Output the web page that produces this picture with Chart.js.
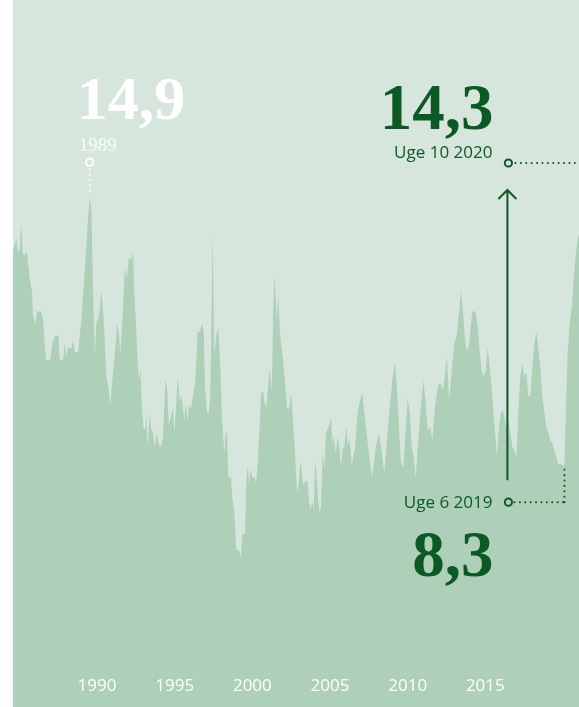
<!DOCTYPE html>
<html>
<head>
<meta charset="utf-8">
<script src="https://cdn.jsdelivr.net/npm/chart.js@4"></script>
<style>
  html, body { margin: 0; padding: 0; background: #fff; }
  #wrap { width: 579px; height: 707px; position: relative; }
</style>
</head>
<body>
<div id="wrap"><canvas id="chart"></canvas></div>
<script>
// weekly readings (decimal year, value)
const years = [
    1984.59, 1984.80, 1984.89, 1985.02, 1985.11, 1985.23, 1985.36, 1985.49, 1985.56, 1985.67,
    1985.81, 1985.88, 1986.01, 1986.14, 1986.41, 1986.52, 1986.63, 1986.73, 1986.99, 1987.12,
    1987.29, 1987.51, 1987.60, 1987.81, 1987.92, 1988.02, 1988.13, 1988.37, 1988.45, 1988.58,
    1988.78, 1988.89, 1988.99, 1989.14, 1989.31, 1989.44, 1989.53, 1989.63, 1989.74, 1989.85,
    1989.95, 1990.13, 1990.28, 1990.39, 1990.50, 1990.60, 1990.73, 1990.86, 1990.98, 1991.14,
    1991.29, 1991.42, 1991.50, 1991.67, 1991.80, 1991.93,
    1992.04, 1992.14, 1992.25, 1992.32, 1992.40, 1992.53, 1992.62, 1992.70, 1992.79, 1992.90,
    1993.01, 1993.11, 1993.17, 1993.26, 1993.39, 1993.48, 1993.60, 1993.71, 1993.86, 1993.99,
    1994.12, 1994.25, 1994.40, 1994.51, 1994.62, 1994.76, 1994.89, 1994.98, 1995.11, 1995.20,
    1995.32, 1995.43, 1995.54, 1995.62, 1995.71, 1995.84, 1995.92, 1996.05, 1996.18, 1996.33,
    1996.48, 1996.61, 1996.74, 1996.87, 1996.95, 1997.08, 1997.19, 1997.29, 1997.38, 1997.45,
    1997.55, 1997.68, 1997.81, 1997.94, 1998.05, 1998.20, 1998.29, 1998.37, 1998.45, 1998.63,
    1998.71, 1998.84, 1998.97, 1999.14, 1999.27,
    1999.35, 1999.53, 1999.61, 1999.70, 1999.79, 1999.87, 2000.00, 2000.13, 2000.24, 2000.35,
    2000.45, 2000.56, 2000.69, 2000.77, 2000.90, 2001.03, 2001.12, 2001.25, 2001.33, 2001.41,
    2001.50, 2001.59, 2001.67, 2001.76, 2001.85, 2001.97, 2002.10, 2002.23, 2002.38, 2002.49,
    2002.62, 2002.75, 2002.83, 2002.92, 2003.01, 2003.09, 2003.18, 2003.26, 2003.39, 2003.57,
    2003.65, 2003.73, 2003.86, 2003.95, 2004.04, 2004.12, 2004.25, 2004.34, 2004.42, 2004.53,
    2004.63, 2004.74, 2004.85, 2004.96, 2005.07, 2005.15, 2005.24, 2005.37, 2005.50, 2005.63,
    2005.71, 2005.82, 2005.92, 2006.05, 2006.14, 2006.27, 2006.40, 2006.48, 2006.61,
    2006.78, 2006.95, 2007.08, 2007.21, 2007.38, 2007.56, 2007.69, 2007.81, 2007.94, 2008.16,
    2008.33, 2008.50, 2008.67, 2008.84, 2009.01, 2009.19, 2009.31, 2009.44, 2009.57, 2009.72,
    2009.88, 2010.00, 2010.13, 2010.26, 2010.39, 2010.52, 2010.65, 2010.82, 2011.01, 2011.16,
    2011.29, 2011.46, 2011.59, 2011.72, 2011.85, 2011.97, 2012.15, 2012.28, 2012.41, 2012.53,
    2012.66, 2012.84, 2013.00, 2013.18, 2013.31, 2013.44, 2013.56, 2013.69, 2013.82, 2013.95,
    2014.16, 2014.38, 2014.51, 2014.64, 2014.77, 2014.90, 2015.03, 2015.15, 2015.24, 2015.37,
    2015.50, 2015.62, 2015.75, 2015.88, 2016.01, 2016.14, 2016.27, 2016.35, 2016.48, 2016.61,
    2016.74, 2016.87, 2017.00, 2017.13, 2017.25, 2017.38, 2017.51, 2017.64, 2017.77, 2017.90,
    2018.03, 2018.16, 2018.28, 2018.41, 2018.54, 2018.67, 2018.80, 2018.93, 2019.06, 2019.19,
    2019.31, 2019.44, 2019.57, 2019.70, 2019.83, 2019.96, 2020.09, 2020.18, 2020.30, 2020.43,
    2020.56, 2020.69, 2020.82, 2020.95, 2021.03
];
const values = [
    13.6, 13.9, 13.6, 13.6, 14.3, 13.5, 13.5, 13.6, 13.3, 12.9,
    12.6, 12.0, 11.8, 12.1, 12.1, 11.9, 11.3, 10.9, 10.9, 11.3,
    11.5, 11.5, 10.9, 10.9, 11.3, 11.0, 11.2, 11.2, 11.4, 11.1,
    11.1, 11.5, 11.9, 12.7, 13.7, 14.5, 14.9, 14.7, 12.7, 11.0,
    11.8, 12.0, 12.6, 12.1, 11.4, 10.5, 10.2, 9.8, 10.4, 11.0,
    11.8, 11.5, 11.0, 12.2, 13.2, 12.9,
    13.4, 13.4, 13.4, 13.6, 12.6, 11.6, 10.8, 10.4, 10.7, 9.6,
    9.2, 9.2, 9.6, 8.7, 9.6, 9.2, 9.1, 8.75, 9.1, 8.8,
    8.75, 9.0, 10.4, 10.2, 9.3, 9.5, 9.7, 9.1, 9.9, 10.5,
    9.9, 10.0, 9.7, 9.4, 9.8, 9.4, 9.8, 9.7, 10.0, 10.4,
    11.6, 11.6, 11.8, 11.6, 10.2, 9.6, 9.6, 10.0, 12.1, 14.05,
    11.0, 11.5, 11.7, 10.7, 9.4, 8.6, 9.1, 9.1, 8.0, 8.0,
    7.5, 7.1, 6.2, 6.2, 6.0,
    6.6, 6.6, 7.9, 8.3, 7.85, 8.2, 8.0, 8.0, 7.85, 8.35,
    9.1, 10.1, 10.1, 9.9, 9.7, 10.3, 10.7, 10.1, 11.8, 13.0,
    12.45, 11.8, 12.5, 11.7, 11.3, 10.9, 10.4, 9.7, 9.7, 10.1,
    9.4, 8.6, 7.9, 7.6, 8.0, 8.4, 8.2, 7.8, 7.9, 7.9,
    7.4, 7.2, 7.4, 7.2, 8.4, 8.1, 7.4, 7.1, 7.3, 8.6,
    8.2, 9.1, 9.2, 9.3, 9.5, 8.85, 9.0, 8.6, 9.0, 8.65,
    8.25, 8.7, 8.75, 9.25, 8.8, 8.95, 8.25, 8.5, 8.7,
    9.65, 9.9, 10.1, 9.6, 9.0, 8.4, 8.0, 8.3, 8.75, 9.1,
    8.6, 8.1, 8.9, 9.7, 10.4, 10.85, 10.2, 9.25, 8.35, 8.25,
    9.25, 9.95, 9.6, 8.75, 8.5, 8.0, 8.75, 9.6, 10.4, 9.85,
    9.15, 9.25, 8.9, 9.6, 10.0, 10.3, 10.3, 10.15, 10.6, 11.0,
    9.9, 10.65, 11.3, 11.55, 12.1, 12.6, 12.1, 11.4, 11.1, 11.3,
    12.1, 12.1, 11.7, 11.1, 10.6, 10.5, 10.65, 11.2, 10.9, 10.4,
    9.75, 9.1, 8.5, 9.25, 9.6, 9.65, 9.4, 9.25, 9.4, 9.1,
    8.75, 8.65, 8.5, 9.65, 10.5, 10.8, 10.5, 10.6, 10.0, 10.0,
    10.7, 11.3, 11.6, 11.2, 10.7, 10.0, 9.6, 9.25, 9.1, 8.9,
    8.85, 8.65, 8.5, 8.3, 8.35, 8.3, 8.3, 9.6, 11.1, 11.8,
    12.2, 12.9, 13.5, 13.9, 14.0
];
const tickYears = [1990, 1995, 2000, 2005, 2010, 2015];

// the two marked points
const peakYear = 1989.53, peakValue = 14.9;
const lowYear = 2020.09, lowValue = 8.3;

const darkGreen = '#0b5a26';

function dotted(ctx, x1, y1, x2, y2, color) {
    ctx.save();
    ctx.strokeStyle = color;
    ctx.lineWidth = 2;
    ctx.lineCap = 'round';
    ctx.setLineDash([0.1, 5.3]);
    ctx.beginPath();
    ctx.moveTo(x1, y1);
    ctx.lineTo(x2, y2);
    ctx.stroke();
    ctx.restore();
}

function ring(ctx, x, y, color) {
    ctx.save();
    ctx.strokeStyle = color;
    ctx.lineWidth = 2;
    ctx.beginPath();
    ctx.arc(x, y, 3.6, 0, Math.PI * 2);
    ctx.stroke();
    ctx.restore();
}

function label(ctx, text, x, y, font, color, align) {
    ctx.save();
    ctx.font = font;
    ctx.fillStyle = color;
    ctx.textAlign = align;
    ctx.textBaseline = 'alphabetic';
    ctx.fillText(text, x, y);
    ctx.restore();
}

const notes = {
    id: 'notes',
    beforeDraw(chart) {
        const { ctx, chartArea } = chart;
        ctx.save();
        ctx.fillStyle = '#d6e6dc';
        ctx.fillRect(chartArea.left, 0, chartArea.right - chartArea.left, chart.height);
        ctx.restore();
    },
    afterDatasetsDraw(chart) {
        const { ctx, chartArea } = chart;
        const xs = chart.scales.x, ys = chart.scales.y;

        // 1989 top
        const px = xs.getPixelForValue(peakYear), py = ys.getPixelForValue(peakValue);
        dotted(ctx, px, py - 29, px, py - 2, '#ffffff');
        ring(ctx, px, py - 36, '#ffffff');
        label(ctx, '1989', px - 11, py - 47, '19px "Liberation Serif"', 'rgba(255,255,255,0.85)', 'left');
        label(ctx, '14,9', px - 13, py - 79, 'bold 62px "Liberation Serif"', '#ffffff', 'left');

        // 2019 low and the jump to 2020
        const lx = xs.getPixelForValue(lowYear), ly = ys.getPixelForValue(lowValue);
        const ax = lx - 57;
        const lowRingY = ly + 37;
        dotted(ctx, lx, lowRingY, lx, ly + 3, darkGreen);
        dotted(ctx, ax + 7, lowRingY, lx, lowRingY, darkGreen);
        ring(ctx, ax + 1, lowRingY, darkGreen);
        label(ctx, 'Uge 6 2019', ax - 15, lowRingY + 6, '17px "Open Sans"', darkGreen, 'right');
        label(ctx, '8,3', ax - 14, lowRingY + 74, 'bold 65px "Liberation Serif"', darkGreen, 'right');

        // arrow up
        ctx.save();
        ctx.strokeStyle = darkGreen;
        ctx.lineWidth = 2;
        ctx.beginPath();
        ctx.moveTo(ax, lowRingY - 22);
        ctx.lineTo(ax, 190);
        ctx.moveTo(ax - 9, 199);
        ctx.lineTo(ax, 190);
        ctx.lineTo(ax + 9, 199);
        ctx.stroke();
        ctx.restore();

        const topRingY = 163;
        ring(ctx, ax + 1, topRingY, darkGreen);
        dotted(ctx, ax + 8, topRingY, chartArea.right + 2, topRingY, darkGreen);
        label(ctx, 'Uge 10 2020', ax - 15, topRingY - 5, '17px "Open Sans"', darkGreen, 'right');
        label(ctx, '14,3', ax - 14, topRingY - 34, 'bold 65px "Liberation Serif"', darkGreen, 'right');
    }
};

new Chart(document.getElementById('chart').getContext('2d'), {
    type: 'line',
    data: {
        datasets: [{
            data: years.map((yr, i) => ({ x: yr, y: values[i] })),
            fill: 'start',
            backgroundColor: '#aecfb8',
            borderWidth: 0,
            borderColor: 'rgba(0,0,0,0)',
            pointRadius: 0,
            tension: 0
        }]
    },
    options: {
        responsive: true,
        maintainAspectRatio: false,
        animation: false,
        layout: { padding: { left: 13, right: 0, top: 0, bottom: 0 } },
        plugins: { legend: { display: false }, tooltip: { enabled: false } },
        scales: {
            x: {
                type: 'linear',
                min: 1984.59,
                max: 2021.03,
                grid: { display: false, drawTicks: false },
                border: { display: false },
                afterBuildTicks: s => { s.ticks = tickYears.map(v => ({ value: v })); },
                afterFit: s => { s.height = 0; },
                ticks: {
                    z: 1,
                    mirror: true,
                    padding: 11,
                    color: '#ffffff',
                    font: { family: 'Open Sans', size: 17 },
                    maxRotation: 0,
                    autoSkip: false,
                    callback: v => String(v)
                }
            },
            y: { display: false, min: 2.32, max: 19.8 }
        }
    },
    plugins: [notes]
});
</script>
</body>
</html>
